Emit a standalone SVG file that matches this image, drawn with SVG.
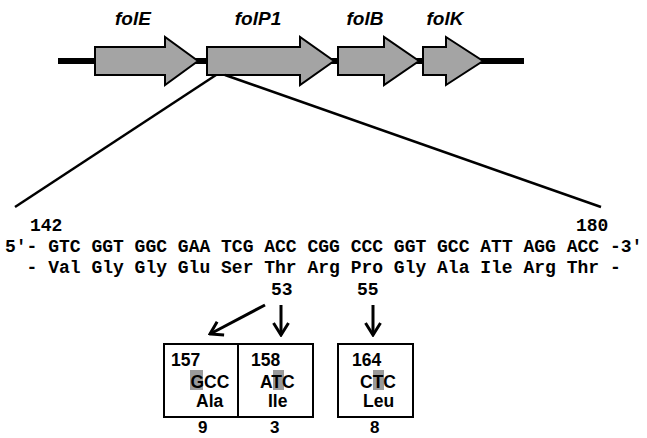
<svg xmlns="http://www.w3.org/2000/svg" width="647" height="438" viewBox="0 0 647 438">
  <style>
    .gene { fill: #a4a4a4; stroke: #000; stroke-width: 2; stroke-linejoin: miter; }
    .gname { font-family: "Liberation Sans", Arial, sans-serif; font-size: 19px; font-weight: bold; font-style: italic; text-anchor: middle; fill: #000; }
    .seq { font-family: "Liberation Mono", "Courier New", monospace; font-size: 18px; font-weight: bold; fill: #000; }
    .lab { font-family: "Liberation Sans", Arial, sans-serif; font-size: 17.5px; font-weight: bold; fill: #000; }
    .cnt { font-family: "Liberation Sans", Arial, sans-serif; font-size: 17px; font-weight: bold; fill: #000; }
    .box { fill: #fff; stroke: #000; stroke-width: 2; }
    .hl { fill: #9a9a9a; }
    .zoomline { stroke: #000; stroke-width: 2.5; fill: none; }
    .arrow { stroke: #000; stroke-width: 3; fill: none; marker-end: url(#chev); }
  </style>
  <defs>
    <marker id="chev" viewBox="-14 -9 16 18" markerWidth="16" markerHeight="18" refX="0" refY="0" orient="auto" markerUnits="userSpaceOnUse">
      <path d="M-12,-7.5 L0,0 L-12,7.5" fill="none" stroke="#000" stroke-width="3"/>
    </marker>
  </defs>

  <!-- operon backbone -->
  <rect id="backbone" x="58" y="58" width="466" height="6" fill="#000"/>

  <!-- genes -->
  <g id="folE">
    <path class="gene" d="M95,47 H165 V37 L198,61 L165,85 V75 H95 Z"/>
    <text class="gname" x="133" y="25">folE</text>
  </g>
  <g id="folP1">
    <path class="gene" d="M207,47 H300 V37 L334,61 L300,85 V75 H207 Z"/>
    <text class="gname" x="258" y="25">folP1</text>
  </g>
  <g id="folB">
    <path class="gene" d="M338,47 H384 V37 L419,61 L384,85 V75 H338 Z"/>
    <text class="gname" x="365" y="25">folB</text>
  </g>
  <g id="folK">
    <path class="gene" d="M423,47 H446 V37 L483,61 L446,85 V75 H423 Z"/>
    <text class="gname" x="445" y="25">folK</text>
  </g>

  <!-- expansion of the folP1 region and mutation arrows -->
  <g id="connectors">
    <line class="zoomline" x1="216" y1="75" x2="15" y2="207"/>
    <line class="zoomline" x1="225" y1="75" x2="601" y2="207"/>
    <line class="arrow" x1="265" y1="305" x2="210" y2="334"/>
    <line class="arrow" x1="281" y1="305" x2="281" y2="335"/>
    <line class="arrow" x1="373" y1="305" x2="373" y2="335"/>
  </g>

  <!-- sequence -->
  <g id="sequence">
    <text class="seq" x="30" y="231">142</text>
    <text class="seq" x="576" y="231">180</text>
    <text class="seq" x="5" y="252">5'- GTC GGT GGC GAA TCG ACC CGG CCC GGT GCC ATT AGG ACC -3'</text>
    <text class="seq" x="26.6" y="273">- Val Gly Gly Glu Ser Thr Arg Pro Gly Ala Ile Arg Thr -</text>
    <text class="seq" x="271" y="295">53</text>
    <text class="seq" x="357" y="295">55</text>
  </g>

  <!-- mutations -->
  <g id="mut157">
    <rect class="box" x="164" y="344" width="74" height="73"/>
    <rect class="hl" x="190" y="370" width="13" height="20"/>
    <text class="lab" x="171" y="366">157</text>
    <text class="lab" x="190.5" y="388">GCC</text>
    <text class="lab" x="196" y="407">Ala</text>
    <text class="cnt" x="198" y="433">9</text>
  </g>
  <g id="mut158">
    <rect class="box" x="238" y="344" width="75" height="73"/>
    <rect class="hl" x="273" y="370" width="11" height="20"/>
    <text class="lab" x="251" y="366">158</text>
    <text class="lab" x="260" y="388">ATC</text>
    <text class="lab" x="268" y="407">Ile</text>
    <text class="cnt" x="270" y="433">3</text>
  </g>
  <g id="mut164">
    <rect class="box" x="338" y="344" width="75" height="73"/>
    <rect class="hl" x="373" y="370" width="11" height="20"/>
    <text class="lab" x="352" y="366">164</text>
    <text class="lab" x="360" y="388">CTC</text>
    <text class="lab" x="363" y="407">Leu</text>
    <text class="cnt" x="370" y="433">8</text>
  </g>
</svg>
